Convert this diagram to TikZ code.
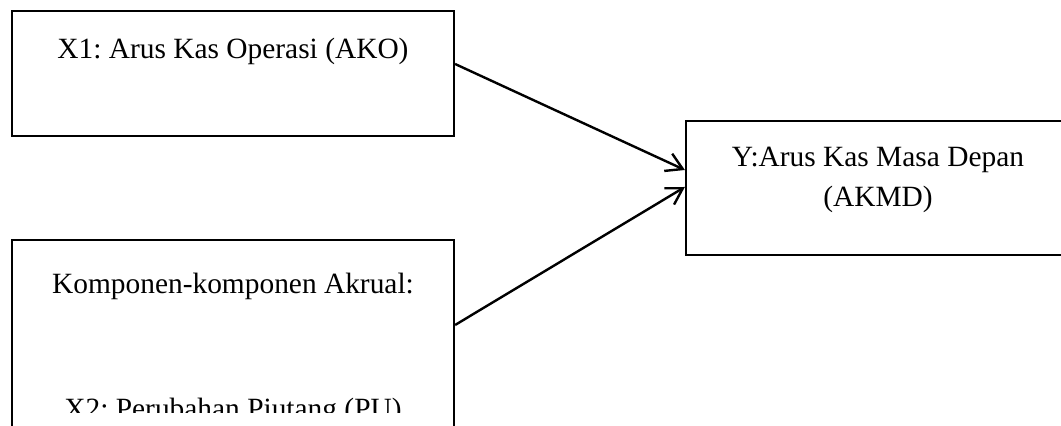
\documentclass[tikz,border=0pt]{standalone}
\usepackage{fontspec}
\setmainfont{Liberation Serif}
\usetikzlibrary{arrows.meta}
\frenchspacing

\begin{document}
\begin{tikzpicture}[x=0.5pt,y=-0.5pt,->,>={Straight Barb[length=8pt,width=9.5pt]},line width=1.2pt,
  var/.style={draw,-,line width=1.1pt,rectangle,inner sep=0pt},
  lbl/.style={inner sep=0pt,font=\fontsize{14.7}{20}\selectfont,align=center}]
\useasboundingbox (0,0) rectangle (1061,426);
\clip (0,0) rectangle (1061,426);

\node[var,minimum width=221pt,minimum height=62.5pt] (X1) at (233,73.5) {};
\node[var,minimum width=221pt,minimum height=100pt] (X2) at (233,340) {};
\node[var,minimum width=192pt,minimum height=67pt] (Y) at (878,188) {};

\node[lbl,anchor=base] (X1t) at ([yshift=-24.5pt]X1.north) {X1: Arus Kas Operasi (AKO)};
\node[lbl,anchor=base] (X2t) at ([yshift=-27.5pt]X2.north) {Komponen-komponen Akrual:};
\begin{scope}
\clip (0,0) rectangle (1061,413);
\node[lbl,anchor=base] (X2u) at ([yshift=-90pt]X2.north) {X2: Perubahan Piutang (PU)};
\end{scope}
\node[lbl,anchor=base] (Yt) at ([yshift=-43.5pt]Y.north) {Y:Arus Kas Masa Depan\\(AKMD)};

\path
([yshift=4.75pt]X1.east) edge (Y.west |- 0,170)
([yshift=7.5pt]X2.east) edge (Y.west |- 0,187)
;
\end{tikzpicture}
\end{document}
